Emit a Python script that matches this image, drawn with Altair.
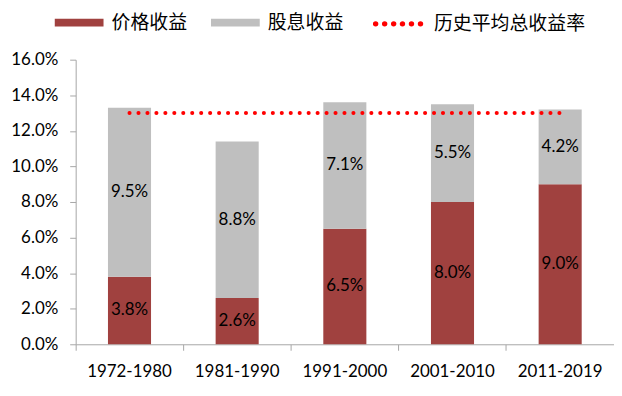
import altair as alt
import pandas as pd

periods = ["1972-1980", "1981-1990", "1991-2000", "2001-2010", "2011-2019"]
price_return = [3.8, 2.6, 6.5, 8.0, 9.0]
dividend_return = [9.5, 8.8, 7.1, 5.5, 4.2]
avg_total = 13.0
y_ticks = [0, 0.02, 0.04, 0.06, 0.08, 0.10, 0.12, 0.14, 0.16]

series_names = ["价格收益", "股息收益"]
avg_name = "历史平均总收益率"

rows = []
for p, a, b in zip(periods, price_return, dividend_return):
    rows.append({"period": p, "series": series_names[0], "value": a / 100, "ord": 0})
    rows.append({"period": p, "series": series_names[1], "value": b / 100, "ord": 1})
df = pd.DataFrame(rows)
df_avg = pd.DataFrame([{"start": periods[0], "end": periods[-1], "value": avg_total / 100, "series": avg_name}])

FONT = "Lato"
CJK = "Noto Sans CJK SC"
AXIS_GRAY = "#A6A6A6"

xscale = alt.Scale(domain=periods, paddingInner=0, paddingOuter=0)
yscale = alt.Scale(domain=[0, 0.16])
xaxis = alt.Axis(bandPosition=0, labelAngle=0, tickSize=6, labelPadding=13,
                 domainColor=AXIS_GRAY, tickColor=AXIS_GRAY,
                 labelFont=FONT, labelFontSize=17, labelColor="black", grid=False)
yaxis = alt.Axis(values=y_ticks, format=".1%", labelOverlap=False, labelFlush=False,
                 tickSize=6, labelPadding=12, domainColor=AXIS_GRAY, tickColor=AXIS_GRAY,
                 labelFont=FONT, labelFontSize=17, labelColor="black", grid=False)

base = alt.Chart(df).transform_stack(
    stack="value", groupby=["period"], sort=[alt.SortField("ord")], as_=["v0", "v1"]
).transform_calculate(mid="(datum.v0 + datum.v1) / 2")

bars = base.mark_bar(width=alt.RelativeBandSize(0.4)).encode(
    x=alt.X("period:N", scale=xscale, sort=periods, title=None, axis=xaxis),
    y=alt.Y("v0:Q", scale=yscale, title=None, axis=yaxis),
    y2="v1:Q",
    color=alt.Color("series:N", scale=alt.Scale(domain=series_names, range=["#A0413F", "#BFBFBF"]),
                    legend=alt.Legend(title=None, orient="none", legendX=-21, legendY=-62,
                                      direction="horizontal", symbolType="M-1,-0.16H1V0.16H-1Z",
                                      symbolSize=2401, symbolStrokeWidth=0, labelFont=CJK,
                                      labelFontSize=19, labelColor="black", labelOffset=8,
                                      columnPadding=23, symbolOpacity=1)),
)

labels = base.mark_text(font=FONT, fontSize=17, color="black").encode(
    x=alt.X("period:N", scale=xscale, sort=periods, title=None, axis=xaxis),
    y=alt.Y("mid:Q", scale=yscale, title=None, axis=yaxis),
    text=alt.Text("value:Q", format=".1%"),
)

dots = "".join(
    f"M{c - 0.05:.3f},0a0.05,0.05 0 1,0 0.1,0a0.05,0.05 0 1,0 -0.1,0"
    for c in [-0.92, -0.55, -0.18, 0.18, 0.55, 0.92]
)

avg_rule = alt.Chart(df_avg).mark_rule(strokeDash=[0.1, 8.9], strokeCap="round", strokeWidth=4).encode(
    x=alt.X("start:N", scale=xscale, sort=periods, title=None, axis=xaxis),
    x2="end:N",
    y=alt.Y("value:Q", scale=yscale, title=None, axis=yaxis),
    color=alt.Color("series:N", scale=alt.Scale(domain=[avg_name], range=["#FF0000"]),
                    legend=alt.Legend(title=None, orient="none", legendX=298, legendY=-62,
                                      symbolType=dots, symbolSize=2401, symbolStrokeWidth=3,
                                      symbolDash=[100, 0], symbolFillColor="#FF0000",
                                      labelFont=CJK, labelFontSize=19, labelColor="black",
                                      labelOffset=10)),
)

chart = alt.layer(bars, labels, avg_rule).resolve_scale(color="independent").properties(
    width=541, height=286,
    padding={"left": 68, "top": 51, "right": 0, "bottom": 40},
    autosize=alt.AutoSizeParams(type="none"),
).configure_view(stroke=None)

chart.save("out.html", embed_options={"renderer": "svg", "actions": False})
